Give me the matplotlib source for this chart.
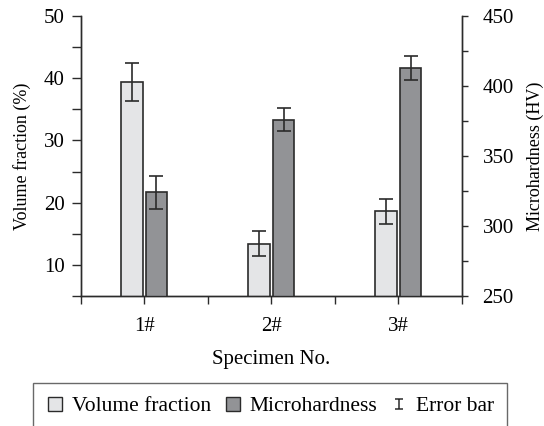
import numpy as np
import matplotlib
matplotlib.use("Agg")
import matplotlib.pyplot as plt
from matplotlib.lines import Line2D
from matplotlib.path import Path
from matplotlib.ticker import MultipleLocator

specimens = ["1#", "2#", "3#"]
vol_frac = [39.4, 13.4, 18.6]        # %
vol_err = [3.0, 2.0, 2.0]
hardness = [324.0, 376.0, 413.0]     # HV
hard_err = [12.0, 8.0, 8.5]

light = "#e4e5e7"
dark = "#929396"
edge = "#2b2b2b"

plt.rcParams["font.family"] = ["Liberation Serif", "DejaVu Serif"]
plt.rcParams["font.size"] = 13

fig = plt.figure(figsize=(5.44, 4.26), dpi=100)
ax = fig.add_axes([0.1483, 0.3052, 0.7004, 0.6572])
ax2 = ax.twinx()

x = np.arange(len(specimens))
w = 0.17
off = 0.097

ax.bar(x - off, vol_frac, w, bottom=0, color=light, edgecolor=edge, linewidth=1.2,
       yerr=vol_err, error_kw=dict(ecolor=edge, elinewidth=1.2, capsize=5, capthick=1.2))
ax2.bar(x + off, hardness, w, color=dark, edgecolor=edge, linewidth=1.2,
        yerr=hard_err, error_kw=dict(ecolor=edge, elinewidth=1.2, capsize=5, capthick=1.2))

ax.set_xlim(-0.5, 2.5)
ax.set_ylim(5, 50)
ax2.set_ylim(250, 450)

ax.set_xticks(x)
ax.set_xticklabels(specimens)
ax.xaxis.set_minor_locator(MultipleLocator(0.5))
ax.set_yticks([10, 20, 30, 40, 50])
ax.yaxis.set_minor_locator(MultipleLocator(5))
ax2.set_yticks([250, 300, 350, 400, 450])
ax2.yaxis.set_minor_locator(MultipleLocator(25))

for a in (ax, ax2):
    a.spines["top"].set_visible(False)
    for s in a.spines.values():
        s.set_linewidth(1.0)
        s.set_color(edge)
ax.tick_params(axis="y", which="both", direction="out", length=6.5, width=1, color=edge,
               pad=5, labelsize=15)
ax.tick_params(axis="x", which="both", direction="out", length=6, width=1, color=edge,
               pad=9, labelsize=15)
ax2.tick_params(axis="y", which="both", direction="out", length=4, width=1, color=edge,
                pad=11, labelsize=15)

ax.set_ylabel("Volume fraction (%)", labelpad=9)
ax2.set_ylabel("Microhardness (HV)", labelpad=9)
ax.set_xlabel("Specimen No.", fontsize=15, labelpad=10)

# error bar glyph for the legend: vertical stroke with two caps
ebar = Path([(-0.8, -1), (0.8, -1), (0, -1), (0, 1), (-0.8, 1), (0.8, 1)],
            [Path.MOVETO, Path.LINETO, Path.MOVETO, Path.LINETO, Path.MOVETO, Path.LINETO])
handles = [
    Line2D([], [], linestyle="none", marker="s", markersize=9.5, markerfacecolor=light,
           markeredgecolor=edge, markeredgewidth=1.0),
    Line2D([], [], linestyle="none", marker="s", markersize=9.5, markerfacecolor=dark,
           markeredgecolor=edge, markeredgewidth=1.0),
    Line2D([], [], linestyle="none", marker=ebar, markersize=7, color=edge,
           markeredgewidth=1.1),
]
leg = fig.legend(handles, ["Volume fraction", "Microhardness", "Error bar"],
                 loc="upper center", bbox_to_anchor=(0.497, 0.1005), ncol=3,
                 frameon=True, fancybox=False, fontsize=15.5, handlelength=0.8,
                 handletextpad=0.4, columnspacing=0.6, borderpad=0.6,
                 borderaxespad=0)
leg.get_frame().set_edgecolor("#444444")
leg.get_frame().set_linewidth(1.0)

fig.savefig("out.png", dpi=100)
